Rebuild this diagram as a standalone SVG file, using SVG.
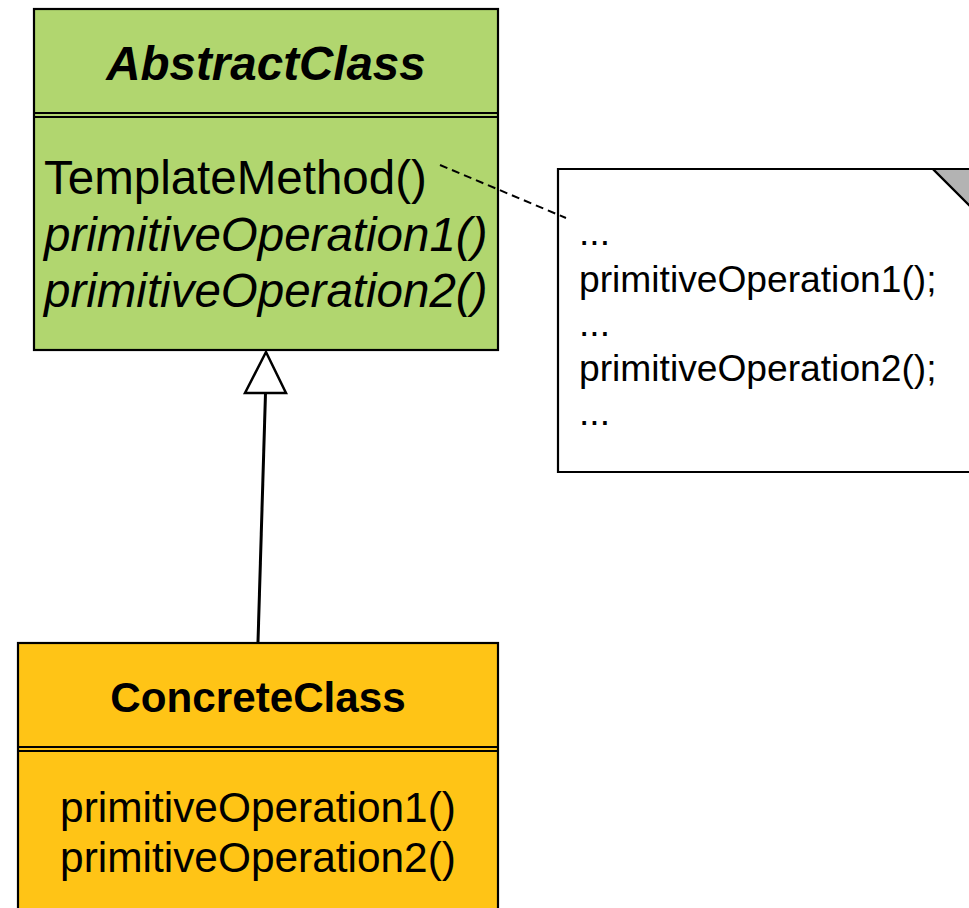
<svg xmlns="http://www.w3.org/2000/svg" width="969" height="908" viewBox="0 0 969 908">
  <style>
    .box { stroke: #000; stroke-width: 2.2; }
    .sep { stroke: #000; stroke-width: 2.2; fill: none; }
    .t { font-family: "Liberation Sans", Arial, sans-serif; fill: #000; }
  </style>
  <rect width="969" height="908" fill="#fff"/>
  <g id="AbstractClass">
    <rect class="box" x="34" y="9" width="464" height="341" fill="#B1D66F"/>
    <line class="sep" x1="34" y1="113" x2="498" y2="113"/>
    <line class="sep" x1="34" y1="117" x2="498" y2="117"/>
    <text class="t" x="266" y="80" font-size="47.5" font-weight="bold" font-style="italic" text-anchor="middle">AbstractClass</text>
    <text class="t" x="44" y="194" font-size="47.5">TemplateMethod()</text>
    <text class="t" x="44" y="251" font-size="47.5" font-style="italic">primitiveOperation1()</text>
    <text class="t" x="44" y="307" font-size="47.5" font-style="italic">primitiveOperation2()</text>
  </g>
  <g id="Note">
    <path d="M558,169 L933,169 L985,221 L985,472 L558,472 Z" fill="#fff" stroke="#000" stroke-width="2.2"/>
    <path d="M933,169 L985,169 L985,221 Z" fill="#B3B3B3" stroke="#000" stroke-width="2.2"/>
    <text class="t" x="579" y="245" font-size="37.2">...</text>
    <text class="t" x="579" y="292" font-size="37.2">primitiveOperation1();</text>
    <text class="t" x="579" y="336" font-size="37.2">...</text>
    <text class="t" x="579" y="381" font-size="37.2">primitiveOperation2();</text>
    <text class="t" x="579" y="425" font-size="37.2">...</text>
  </g>
  <g id="ConcreteClass">
    <rect class="box" x="18" y="643" width="480" height="280" fill="#FFC416"/>
    <line class="sep" x1="18" y1="747" x2="498" y2="747"/>
    <line class="sep" x1="18" y1="751" x2="498" y2="751"/>
    <text class="t" x="258" y="712" font-size="42.2" font-weight="bold" text-anchor="middle">ConcreteClass</text>
    <text class="t" x="258" y="822" font-size="42.4" text-anchor="middle">primitiveOperation1()</text>
    <text class="t" x="258" y="872" font-size="42.4" text-anchor="middle">primitiveOperation2()</text>
  </g>
  <g id="connectors">
    <line x1="440" y1="165" x2="566" y2="218" stroke="#000" stroke-width="2" stroke-dasharray="8,5"/>
    <line x1="265.5" y1="393" x2="258" y2="642" stroke="#000" stroke-width="3"/>
    <polygon points="266,352 245,393 286,393" fill="#fff" stroke="#000" stroke-width="2.5" stroke-linejoin="miter"/>
  </g>
</svg>
